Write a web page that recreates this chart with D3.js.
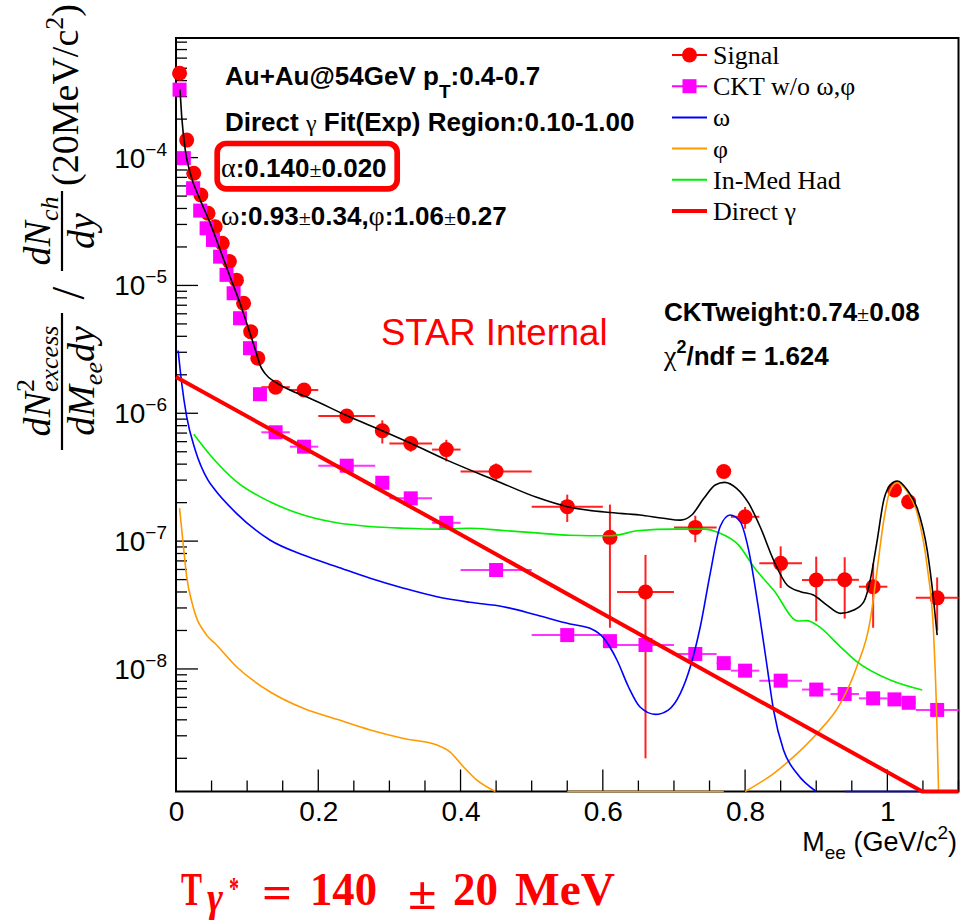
<!DOCTYPE html>
<html>
<head>
<meta charset="utf-8">
<script src="https://cdn.jsdelivr.net/npm/d3@7"></script>
<style>
  body { margin: 0; background: #fff; }
  svg { display: block; }
</style>
</head>
<body>
<div id="chart"></div>
<script>
// ---- data ----
const signalMass = [0.005, 0.015, 0.025, 0.035, 0.045, 0.055, 0.065, 0.075, 0.085, 0.095, 0.105, 0.115,
    0.14, 0.18, 0.24, 0.29, 0.33, 0.38, 0.45, 0.55, 0.61, 0.66, 0.73, 0.77, 0.80, 0.85, 0.90, 0.94, 0.98, 1.01, 1.03, 1.07];
const binHalfWidth = [0.005, 0.005, 0.005, 0.005, 0.005, 0.005, 0.005, 0.005, 0.005, 0.005, 0.005, 0.005,
    0.02, 0.02, 0.04, 0.01, 0.03, 0.02, 0.05, 0.05, 0.01, 0.04, 0.03, 0.01, 0.02, 0.03, 0.02, 0.02, 0.02, 0.01, 0.01, 0.03];
const signalValue = [4.57e-4, 1.37e-4, 7.55e-5, 5.1e-5, 3.67e-5, 2.88e-5, 2.14e-5, 1.54e-5, 1.10e-5, 7.26e-6, 4.35e-6, 2.7e-6,
    1.6e-6, 1.52e-6, 9.5e-7, 7.3e-7, 5.8e-7, 5.2e-7, 3.5e-7, 1.86e-7, 1.07e-7, 4.0e-8, 1.28e-7, 3.5e-7, 1.55e-7, 6.7e-8,
    4.96e-8, 4.98e-8, 4.4e-8, 2.51e-7, 2.03e-7, 3.6e-8];
const signalError = [2e-5, 6e-6, 3e-6, 2e-6, 1.5e-6, 1.2e-6, 1e-6, 7e-7, 5e-7, 3.5e-7, 2.5e-7, 1.5e-7,
    8e-8, 1e-7, 6e-8, 1.5e-7, 8e-8, 1e-7, 5.5e-8, 4.5e-8, 8.6e-8, 3.8e-8, 3e-8, 2.5e-8, 3e-8, 2.4e-8,
    2.6e-8, 2.5e-8, 2.3e-8, 2e-8, 1.8e-8, 1.6e-8];

const cktMass = [0.005, 0.011, 0.024, 0.034, 0.043, 0.052, 0.062, 0.071, 0.081, 0.090, 0.104, 0.118,
    0.14, 0.18, 0.24, 0.29, 0.33, 0.38, 0.45, 0.55, 0.61, 0.66, 0.73, 0.77, 0.80, 0.85, 0.90, 0.94, 0.98, 1.01, 1.03, 1.07];
const cktValue = [3.4e-4, 9.9e-5, 5.76e-5, 3.85e-5, 2.8e-5, 2.27e-5, 1.68e-5, 1.21e-5, 8.69e-6, 5.54e-6, 3.23e-6, 1.41e-6,
    7.1e-7, 5.48e-7, 3.89e-7, 2.86e-7, 2.16e-7, 1.39e-7, 5.94e-8, 1.84e-8, 1.65e-8, 1.54e-8, 1.31e-8, 1.11e-8, 9.7e-9,
    8.1e-9, 6.9e-9, 6.37e-9, 5.89e-9, 5.78e-9, 5.44e-9, 4.78e-9];

// curves: [mass, value]; null value = ROOT left a gap there
const omegaCurve = [[0.003, 3.1e-6], [0.008, 1.72e-6], [0.015, 9.4e-7], [0.027, 5.17e-7], [0.045, 3.0e-7], [0.055, 2.51e-7],
    [0.085, 1.65e-7], [0.132, 1.02e-7], [0.179, 7.78e-8], [0.226, 6.31e-8], [0.273, 5.12e-8], [0.32, 4.28e-8],
    [0.367, 3.67e-8], [0.413, 3.32e-8], [0.46, 3.07e-8], [0.507, 2.64e-8], [0.554, 2.25e-8], [0.582, 2.08e-8],
    [0.601, 1.75e-8], [0.62, 1.17e-8], [0.636, 7.26e-9], [0.652, 5.06e-9], [0.674, 4.41e-9], [0.692, 4.77e-9],
    [0.709, 6.44e-9], [0.723, 1.04e-8], [0.737, 2.14e-8], [0.751, 5.6e-8], [0.765, 1.3e-7], [0.779, 1.6e-7],
    [0.793, 1.42e-7], [0.805, 8.5e-8], [0.817, 3.46e-8], [0.831, 1.04e-8], [0.84, 4.77e-9], [0.854, 2.32e-9],
    [0.873, 1.52e-9], [0.90, 1e-9], [0.92, null], [0.94, 1e-9], [1.05, 1e-9]];

const phiCurve = [[0.005, 1.81e-7], [0.01, 9.6e-8], [0.015, 5.27e-8], [0.024, 3.07e-8], [0.043, 1.84e-8], [0.055, 1.58e-8],
    [0.085, 1.04e-8], [0.132, 6.63e-9], [0.179, 4.92e-9], [0.226, 4.04e-9], [0.273, 3.33e-9], [0.32, 2.86e-9],
    [0.367, 2.54e-9], [0.385, 2.25e-9], [0.404, 1.72e-9], [0.423, 1.35e-9], [0.449, 1e-9], [0.5, null],
    [0.55, 1e-9], [0.77, 1e-9], [0.785, null], [0.80, 1e-9], [0.84, 1.52e-9], [0.868, 2.05e-9], [0.901, 3.13e-9],
    [0.934, 5.37e-9], [0.957, 1.04e-8], [0.976, 2.42e-8], [0.985, 5.6e-8], [0.995, 1.46e-7], [1.004, 2.51e-7],
    [1.014, 2.87e-7], [1.028, 2.44e-7], [1.042, 1.65e-7], [1.056, 6.31e-8], [1.065, 1.9e-8], [1.069, 5.06e-9],
    [1.072, 1e-9]];

const inMedCurve = [[0.025, 6.86e-7], [0.048, 4.72e-7], [0.085, 2.92e-7], [0.132, 2.03e-7], [0.179, 1.6e-7],
    [0.226, 1.39e-7], [0.273, 1.3e-7], [0.32, 1.26e-7], [0.367, 1.24e-7], [0.413, 1.26e-7], [0.46, 1.21e-7],
    [0.507, 1.16e-7], [0.554, 1.11e-7], [0.61, 1.10e-7], [0.652, 1.21e-7], [0.699, 1.24e-7], [0.742, 1.24e-7],
    [0.765, 1.15e-7], [0.791, 9.3e-8], [0.812, 6.31e-8], [0.84, 4.14e-8], [0.875, 2.37e-8], [0.887, 2.39e-8],
    [0.901, 2.2e-8], [0.934, 1.49e-8], [0.957, 1.14e-8], [1.004, 8.18e-9], [1.049, 6.84e-9]];

const totalCurve = [[0.0056, 3.4e-4], [0.008, 2.1e-4], [0.013, 1.15e-4], [0.02, 7.55e-5], [0.034, 4.67e-5],
    [0.048, 3.07e-5], [0.062, 1.9e-5], [0.076, 1.17e-5], [0.09, 7.26e-6], [0.104, 4.23e-6], [0.113, 2.95e-6],
    [0.118, 2.39e-6], [0.125, 2.05e-6], [0.142, 1.72e-6], [0.16, 1.52e-6], [0.188, 1.31e-6], [0.24, 9.6e-7],
    [0.29, 7.3e-7], [0.33, 5.82e-7], [0.38, 4.32e-7], [0.45, 2.97e-7], [0.507, 2.2e-7], [0.55, 1.86e-7],
    [0.606, 1.68e-7], [0.652, 1.6e-7], [0.685, 1.51e-7], [0.709, 1.46e-7], [0.725, 1.6e-7], [0.742, 2.16e-7],
    [0.758, 2.75e-7], [0.771, 2.88e-7], [0.788, 2.59e-7], [0.805, 1.98e-7], [0.821, 1.3e-7], [0.84, 7.1e-8],
    [0.859, 4.54e-8], [0.878, 4.02e-8], [0.896, 3.79e-8], [0.915, 3.16e-8], [0.934, 2.72e-8], [0.953, 2.89e-8],
    [0.967, 3.36e-8], [0.976, 4.97e-8], [0.985, 9.6e-8], [0.995, 2.1e-7], [1.004, 2.75e-7], [1.014, 2.95e-7],
    [1.028, 2.51e-7], [1.042, 1.81e-7], [1.056, 8.5e-8], [1.065, 3.46e-8], [1.07, 1.84e-8]];

const directGammaLine = [[0, 1.92e-6], [0.38, 1.3e-7], [0.624, 2.28e-8], [1.049, 1.1e-9], [1.1, 1e-9]];

const xTickValues = [0, 0.2, 0.4, 0.6, 0.8, 1];
const yDecades = [-8, -7, -6, -5, -4];

const legendLabels = ["Signal", "CKT w/o ω,φ", "ω", "φ", "In-Med Had", "Direct γ"];
const legendColors = ["#ff0000", "#ff00ff", "#0000ff", "#ff9900", "#00ee00", "#ff0000"];

// ---- setup ----
const width = 961, height = 923;
const frame = { left: 176, top: 38, right: 958.5, bottom: 791.5 };
const sans = "'Liberation Sans', Arial, Helvetica, sans-serif";
const serif = "'Liberation Serif', 'Times New Roman', serif";

const svg = d3.select("#chart").append("svg")
    .attr("width", width)
    .attr("height", height)
    .attr("viewBox", `0 0 ${width} ${height}`);

svg.append("rect").attr("width", width).attr("height", height).attr("fill", "#fff");

const x = d3.scaleLinear().domain([0, 1.1]).range([frame.left, frame.right]);
const y = d3.scaleLog().domain([1.1e-9, 8.62e-4]).range([frame.bottom, frame.top]).clamp(true);

// ticks point inside the frame, like ROOT
const xMinor = d3.range(0, 1.1001, 0.05).filter(v => Math.abs(v / 0.2 - Math.round(v / 0.2)) > 1e-6);
const yMinor = [];
for (let k = -9; k <= -4; k++) {
    for (let m = 2; m <= 9; m++) {
        const v = m * Math.pow(10, k);
        if (v > 1.1e-9 && v < 8.62e-4) yMinor.push(v);
    }
}
const yMajor = yDecades.map(k => Math.pow(10, k));

const ticks = svg.append("g").attr("stroke", "#000").attr("stroke-width", 1.3);
ticks.selectAll(".xt").data(xTickValues.map(v => [v, 22]).concat(xMinor.map(v => [v, 11])))
    .join("line")
    .attr("x1", d => x(d[0])).attr("x2", d => x(d[0]))
    .attr("y1", frame.bottom).attr("y2", d => frame.bottom - d[1]);
ticks.selectAll(".yt").data(yMajor.map(v => [v, 22]).concat(yMinor.map(v => [v, 11])))
    .join("line")
    .attr("x1", frame.left).attr("x2", d => frame.left + d[1])
    .attr("y1", d => y(d[0])).attr("y2", d => y(d[0]));

// x tick labels
svg.append("g")
    .attr("transform", `translate(0,${frame.bottom})`)
    .call(d3.axisBottom(x).tickValues(xTickValues).tickSize(0).tickPadding(10).tickFormat(d3.format("~g")))
    .call(g => g.select(".domain").remove())
    .call(g => g.selectAll("text").attr("font-family", sans).attr("font-size", 28).attr("fill", "#000"));

// decade labels 10^k
yDecades.forEach(k => {
    const t = svg.append("text")
        .attr("x", 167)
        .attr("y", y(Math.pow(10, k)) + 10)
        .attr("text-anchor", "end")
        .attr("font-family", sans)
        .attr("font-size", 28);
    t.append("tspan").text("10");
    t.append("tspan").attr("font-size", 19).attr("dy", -12).text("\u2212" + Math.abs(k));
});

svg.append("rect")
    .attr("x", frame.left).attr("y", frame.top)
    .attr("width", frame.right - frame.left).attr("height", frame.bottom - frame.top)
    .attr("fill", "none").attr("stroke", "#000").attr("stroke-width", 2);

// ---- data points ----
const signal = signalMass.map((m, i) => ({ m, v: signalValue[i], dx: binHalfWidth[i], dv: signalError[i] }));
const ckt = cktMass.map((m, i) => ({ m, v: cktValue[i], dx: binHalfWidth[i] }));

const pts = svg.append("g");

pts.selectAll(".sig-x").data(signal).enter().append("line")
    .attr("x1", d => x(d.m - d.dx)).attr("x2", d => x(d.m + d.dx))
    .attr("y1", d => y(d.v)).attr("y2", d => y(d.v))
    .attr("stroke", "#ff2020").attr("stroke-width", 2);
pts.selectAll(".sig-y").data(signal).enter().append("line")
    .attr("x1", d => x(d.m)).attr("x2", d => x(d.m))
    .attr("y1", d => y(d.v + d.dv)).attr("y2", d => y(Math.max(d.v - d.dv, 1e-10)))
    .attr("stroke", "#ff2020").attr("stroke-width", 2);

pts.selectAll(".ckt-x").data(ckt).enter().append("line")
    .attr("x1", d => x(d.m - d.dx)).attr("x2", d => x(d.m + d.dx))
    .attr("y1", d => y(d.v)).attr("y2", d => y(d.v))
    .attr("stroke", "#ff33ff").attr("stroke-width", 2);

pts.selectAll(".sig").data(signal).enter().append("circle")
    .attr("cx", d => x(d.m)).attr("cy", d => y(d.v)).attr("r", 7.5)
    .attr("fill", "#ff0000");

pts.selectAll(".ckt").data(ckt).enter().append("rect")
    .attr("x", d => x(d.m) - 7).attr("y", d => y(d.v) - 7)
    .attr("width", 14).attr("height", 14)
    .attr("fill", "#ff00ff");

// ---- curves ----
const line = d3.line()
    .defined(d => d[1] !== null)
    .x(d => x(d[0]))
    .y(d => y(d[1]))
    .curve(d3.curveMonotoneX);

const curves = [
    { data: phiCurve, color: "#ff9900", w: 1.6 },
    { data: inMedCurve, color: "#00ee00", w: 1.6 },
    { data: omegaCurve, color: "#0000ff", w: 1.6 },
    { data: totalCurve, color: "#000000", w: 1.6 },
];
curves.forEach(c => {
    svg.append("path").datum(c.data)
        .attr("d", line)
        .attr("fill", "none")
        .attr("stroke", c.color)
        .attr("stroke-width", c.w);
});

svg.append("path").datum(directGammaLine)
    .attr("d", d3.line().x(d => x(d[0])).y(d => y(d[1])))
    .attr("fill", "none")
    .attr("stroke", "#ff0000")
    .attr("stroke-width", 4);

// ---- legend ----
const legend = svg.append("g");
legendLabels.forEach((lab, i) => {
    const ly = 55 + i * 31.2;
    legend.append("line")
        .attr("x1", 672).attr("x2", 707).attr("y1", ly).attr("y2", ly)
        .attr("stroke", legendColors[i])
        .attr("stroke-width", i === 5 ? 4 : 2);
    if (i === 0) legend.append("circle").attr("cx", 689.5).attr("cy", ly).attr("r", 7.5).attr("fill", "#ff0000");
    if (i === 1) legend.append("rect").attr("x", 682.5).attr("y", ly - 7).attr("width", 14).attr("height", 14).attr("fill", "#ff00ff");
    legend.append("text")
        .attr("x", 713).attr("y", ly + 9)
        .attr("font-family", serif).attr("font-size", 26)
        .text(lab);
});

// ---- annotations ----
function boldText(xp, yp) {
    return svg.append("text").attr("x", xp).attr("y", yp)
        .attr("font-family", sans).attr("font-weight", "bold").attr("font-size", 26).attr("fill", "#000");
}
function greek(t, s, size) {
    t.append("tspan").attr("font-family", serif).attr("font-weight", "normal")
        .attr("font-size", size || 26).text(s);
}

let t = boldText(225, 85);
t.append("tspan").text("Au+Au@54GeV p");
t.append("tspan").attr("font-size", 19).attr("dy", 13).text("T");
t.append("tspan").attr("dy", -13).text(":0.4-0.7");

t = boldText(225, 131);
t.append("tspan").text("Direct ");
greek(t, "γ", 24);
t.append("tspan").text(" Fit(Exp) Region:0.10-1.00");

t = boldText(221, 177);
greek(t, "α", 28);
t.append("tspan").text(":0.140");
greek(t, "±", 22);
t.append("tspan").text("0.020");

svg.append("rect")
    .attr("x", 217.2).attr("y", 143.5).attr("width", 180).attr("height", 45.3)
    .attr("rx", 9).attr("fill", "none").attr("stroke", "#ff0000").attr("stroke-width", 5.7);

t = boldText(221, 225);
greek(t, "ω", 28);
t.append("tspan").text(":0.93");
greek(t, "±", 22);
t.append("tspan").text("0.34,");
greek(t, "φ", 28);
t.append("tspan").text(":1.06");
greek(t, "±", 22);
t.append("tspan").text("0.27");

t = boldText(664, 321);
t.append("tspan").text("CKTweight:0.74");
greek(t, "±", 22);
t.append("tspan").text("0.08");

t = boldText(664, 365);
greek(t, "χ", 28);
t.append("tspan").attr("font-size", 18).attr("dy", -12).text("2");
t.append("tspan").attr("dy", 12).text("/ndf = 1.624");

svg.append("text")
    .attr("x", 381).attr("y", 345)
    .attr("font-family", sans).attr("font-size", 36.5).attr("fill", "#ff0000")
    .text("STAR Internal");

// x-axis title
t = svg.append("text").attr("x", 957).attr("y", 851).attr("text-anchor", "end")
    .attr("font-family", sans).attr("font-size", 27);
t.append("tspan").text("M");
t.append("tspan").attr("font-size", 19).attr("dy", 8).text("ee");
t.append("tspan").attr("dy", -8).text(" (GeV/c");
t.append("tspan").attr("font-size", 19).attr("dy", -12).text("2");
t.append("tspan").attr("dy", 12).text(")");

// y-axis title (rotated math)
function rot(X, Y) {
    return svg.append("text")
        .attr("transform", `translate(${X},${Y}) rotate(-90)`)
        .attr("text-anchor", "middle")
        .attr("font-family", serif).attr("font-size", 38).attr("fill", "#000");
}
t = rot(50, 381);
t.append("tspan").attr("font-style", "italic").text("dN");
t.append("tspan").attr("font-size", 26).attr("dy", -16).text("2");
t.append("tspan").attr("font-size", 26).attr("font-style", "italic").attr("dx", -13).attr("dy", 24).text("excess");
t = rot(94, 381);
t.append("tspan").attr("font-style", "italic").text("dM");
t.append("tspan").attr("font-size", 26).attr("font-style", "italic").attr("dy", 8).text("ee");
t.append("tspan").attr("font-style", "italic").attr("dy", -8).text("dy");
svg.append("line").attr("x1", 62).attr("x2", 62).attr("y1", 313).attr("y2", 450)
    .attr("stroke", "#000").attr("stroke-width", 2.2);
rot(84, 293).attr("font-size", 46).text("/");
t = rot(50, 231);
t.append("tspan").attr("font-style", "italic").text("dN");
t.append("tspan").attr("font-size", 26).attr("font-style", "italic").attr("dy", 8).text("ch");
t = rot(94, 231);
t.append("tspan").attr("font-style", "italic").text("dy");
svg.append("line").attr("x1", 62).attr("x2", 62).attr("y1", 191).attr("y2", 271)
    .attr("stroke", "#000").attr("stroke-width", 2.2);
t = rot(78, 95);
t.append("tspan").text("(20MeV/c");
t.append("tspan").attr("font-size", 26).attr("dy", -15).text("2");
t.append("tspan").attr("dy", 15).text(")");

// bottom result: Cambria-like bold, each piece squeezed to the width seen
function bigText(xp, yp, s, size, len, italic) {
    const el = svg.append("text")
        .attr("font-family", serif).attr("font-weight", "bold")
        .attr("font-style", italic ? "italic" : "normal")
        .attr("font-size", size).attr("fill", "#ff0000")
        .text(s);
    const natural = el.node().getComputedTextLength() || len;
    el.attr("transform", `translate(${xp},${yp}) scale(${len / natural},1)`);
    return el;
}
bigText(181, 905, "T", 47, 21);
bigText(207, 911, "γ", 40, 16, true);
bigText(229, 899, "*", 32, 10);
bigText(262, 908, "=", 47, 30);
bigText(310, 905, "140", 47, 67);
bigText(408, 909, "±", 47, 28.5);
bigText(453, 905, "20", 47, 45);
bigText(515, 905, "MeV", 47, 100);
</script>
</body>
</html>
